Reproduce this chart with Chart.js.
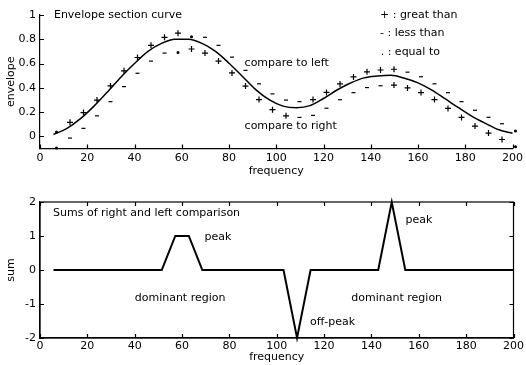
<!DOCTYPE html>
<html>
<head>
<meta charset="utf-8">
<script src="https://cdn.jsdelivr.net/npm/chart.js@4.4.1/dist/chart.umd.min.js"></script>
<style>
    body { margin: 0; background: #fff; }
    #wrap { position: relative; width: 526px; height: 365px; }
    #topChart { position: absolute; left: 0; top: 0; }
    #bottomChart { position: absolute; left: 0; top: 185px; }
</style>
</head>
<body>
<div id="wrap">
    <canvas id="topChart" width="526" height="180"></canvas>
    <canvas id="bottomChart" width="526" height="180"></canvas>
</div>
<script>
// --- DATA ---
const frequency = [5.71, 11.43, 17.14, 22.86, 28.57, 34.29, 40, 45.71, 51.43, 57.14,
    62.86, 68.57, 74.29, 80, 85.71, 91.43, 97.14, 102.86, 108.57, 114.29,
    120, 125.71, 131.43, 137.14, 142.86, 148.57, 154.29, 160, 165.71, 171.43,
    177.14, 182.86, 188.57, 194.29, 200];

const envelope = [0.015, 0.066, 0.146, 0.249, 0.366, 0.49, 0.60, 0.70, 0.766, 0.80,
    0.80, 0.766, 0.70, 0.603, 0.494, 0.383, 0.30, 0.249, 0.236, 0.253,
    0.312, 0.382, 0.44, 0.482, 0.497, 0.503, 0.479, 0.441, 0.383, 0.31,
    0.236, 0.165, 0.107, 0.054, 0.025];

// compare to left (upper row) and compare to right (lower row)
const compareLeft = ['.', '+', '+', '+', '+', '+', '+', '+', '+', '+',
    '.', '-', '-', '-', '-', '-', '-', '-', '-', '+',
    '+', '+', '+', '+', '+', '+', '-', '-', '-', '-',
    '-', '-', '-', '-', '.'];
const compareRight = ['.', '-', '-', '-', '-', '-', '-', '-', '-', '.',
    '+', '+', '+', '+', '+', '+', '+', '+', '-', '-',
    '-', '-', '-', '-', '-', '+', '+', '+', '+', '+',
    '+', '+', '+', '+', '.'];

const sums = [0, 0, 0, 0, 0, 0, 0, 0, 0, 1,
    1, 0, 0, 0, 0, 0, 0, 0, -2, 0,
    0, 0, 0, 0, 0, 2, 0, 0, 0, 0,
    0, 0, 0, 0, 0];

const xTicks = [0, 20, 40, 60, 80, 100, 120, 140, 160, 180, 200];
const envTicks = [0, 0.2, 0.4, 0.6, 0.8, 1];
const sumTicks = [-2, -1, 0, 1, 2];

// text labels placed in data coordinates: [text, x, y]
const topNotes = [
    ['Envelope section curve', 5.9, 1.0],
    ['compare to left', 86.6, 0.605],
    ['compare to right', 86.6, 0.088],
    ['+ : great than', 143.9, 1.0],
    ['- : less than', 143.9, 0.852],
    ['. : equal to', 144.2, 0.695]
];
const bottomNotes = [
    ['Sums of right and left comparison', 5.5, 1.68],
    ['peak', 69.5, 0.97],
    ['dominant region', 40, -0.82],
    ['off-peak', 114, -1.52],
    ['dominant region', 131.5, -0.82],
    ['peak', 154.4, 1.47]
];

const LEFT_OFFSET = 0.05;
const RIGHT_OFFSET = -0.08;
const DOT_DROP = -0.03;

Chart.defaults.font.family = "'DejaVu Sans', sans-serif";
Chart.defaults.font.size = 11;
Chart.defaults.color = '#000';
Chart.defaults.animation = false;

// --- PLUGINS ---
const tickMarks = {
    id: 'tickMarks',
    afterDraw(chart, args, opts) {
        const { ctx, chartArea: a, scales: { x, y } } = chart;
        const len = 4;
        ctx.save();
        ctx.strokeStyle = '#000';
        ctx.lineWidth = 1.2;
        ctx.beginPath();
        x.ticks.forEach(t => {
            const px = Math.round(x.getPixelForValue(t.value)) + 0.5;
            ctx.moveTo(px, a.bottom); ctx.lineTo(px, a.bottom - len);
            if (opts.box) { ctx.moveTo(px, a.top); ctx.lineTo(px, a.top + len); }
        });
        y.ticks.forEach(t => {
            const py = Math.round(y.getPixelForValue(t.value)) + 0.5;
            ctx.moveTo(a.left, py); ctx.lineTo(a.left + len, py);
            if (opts.box) { ctx.moveTo(a.right, py); ctx.lineTo(a.right - len, py); }
        });
        ctx.stroke();
        if (opts.box) ctx.strokeRect(a.left, a.top, a.right - a.left, a.bottom - a.top);
        ctx.restore();
    }
};

const notes = {
    id: 'notes',
    afterDraw(chart, args, opts) {
        const { ctx, scales: { x, y } } = chart;
        ctx.save();
        ctx.fillStyle = '#000';
        ctx.font = "11px 'DejaVu Sans'";
        ctx.textAlign = 'left';
        ctx.textBaseline = 'middle';
        opts.items.forEach(([text, vx, vy]) => {
            ctx.fillText(text, x.getPixelForValue(vx), y.getPixelForValue(vy));
        });
        ctx.restore();
    }
};

// marker glyphs sit a little right of the sample (text glyph offset)
const shiftMarkers = {
    id: 'shiftMarkers',
    beforeDatasetDraw(chart, args) {
        if (args.meta._dataset.isMarker) { chart.ctx.save(); chart.ctx.translate(3, 0); }
    },
    afterDatasetDraw(chart, args) {
        if (args.meta._dataset.isMarker) chart.ctx.restore();
    }
};

function markerStyle(sym) {
    if (sym === '+') return 'cross';
    if (sym === '-') return 'line';
    return 'circle';
}
function markerRadius(sym) {
    if (sym === '+') return 3;
    if (sym === '-') return 2;
    return 0.9;
}

function markerSet(symbols, offset) {
    return {
        isMarker: true,
        data: frequency.map((f, i) => ({ x: f, y: envelope[i] + offset + (symbols[i] === '.' ? DOT_DROP : 0) })),
        showLine: false,
        clip: false,
        pointStyle: c => markerStyle(symbols[c.dataIndex]),
        pointRadius: c => markerRadius(symbols[c.dataIndex]),
        pointBorderWidth: 1.2,
        pointBorderColor: '#000',
        pointBackgroundColor: '#000'
    };
}

function xScale(titleBottom, labelPad, height) {
    return {
        type: 'linear', min: 0, max: 200,
        afterBuildTicks: s => { s.ticks = xTicks.map(v => ({ value: v })); },
        afterFit: s => { s.height = height; },
        grid: { display: true, drawOnChartArea: false, drawTicks: false },
        border: { display: true, color: '#000', width: 1.2 },
        ticks: { padding: labelPad, maxRotation: 0, autoSkip: false },
        title: { display: true, text: 'frequency', padding: { top: 0, bottom: titleBottom } }
    };
}

function yScale(min, max, tickList, title) {
    return {
        type: 'linear', min: min, max: max,
        afterBuildTicks: s => { s.ticks = tickList.map(v => ({ value: v })); },
        afterFit: s => { s.width = 40; },
        grid: { display: true, drawOnChartArea: false, drawTicks: false },
        border: { display: true, color: '#000', width: 1.2 },
        ticks: { padding: 4, callback: v => String(v) },
        title: { display: true, text: title, padding: { top: 5, bottom: 0 } }
    };
}

// --- TOP CHART: envelope section curve ---
new Chart(document.getElementById('topChart'), {
    type: 'line',
    data: {
        datasets: [
            {
                data: frequency.map((f, i) => ({ x: f, y: envelope[i] })),
                borderColor: '#000',
                borderWidth: 1.5,
                pointRadius: 0,
                cubicInterpolationMode: 'monotone',
                clip: false
            },
            markerSet(compareLeft, LEFT_OFFSET),
            markerSet(compareRight, RIGHT_OFFSET)
        ]
    },
    options: {
        responsive: false,
        layout: { padding: { top: 15, right: 11, left: 0, bottom: 0 } },
        plugins: {
            legend: { display: false },
            tooltip: { enabled: false },
            tickMarks: { box: false },
            notes: { items: topNotes }
        },
        scales: {
            x: xScale(2, 3, 31.5),
            y: yScale(-0.1, 1, envTicks, 'envelope')
        }
    },
    plugins: [tickMarks, notes, shiftMarkers]
});

// --- BOTTOM CHART: sums of comparisons ---
new Chart(document.getElementById('bottomChart'), {
    type: 'line',
    data: {
        datasets: [{
            data: frequency.map((f, i) => ({ x: f, y: sums[i] })),
            borderColor: '#000',
            borderWidth: 2,
            pointRadius: 0,
            tension: 0,
            clip: false
        }]
    },
    options: {
        responsive: false,
        layout: { padding: { top: 17, right: 11, left: 0, bottom: 0 } },
        plugins: {
            legend: { display: false },
            tooltip: { enabled: false },
            tickMarks: { box: true },
            notes: { items: bottomNotes }
        },
        scales: {
            x: xScale(1.4, 2, 27),
            y: yScale(-2, 2, sumTicks, 'sum')
        }
    },
    plugins: [tickMarks, notes, shiftMarkers]
});
</script>
</body>
</html>
